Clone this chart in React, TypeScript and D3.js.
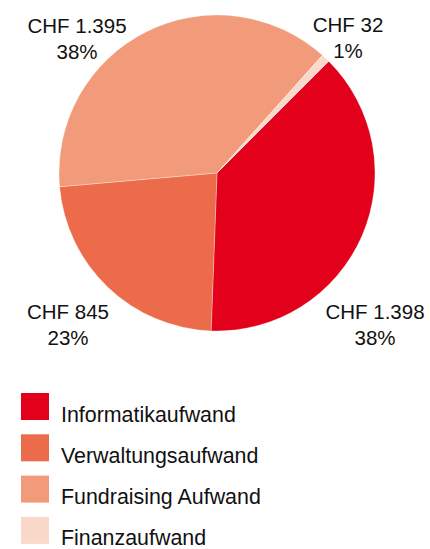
import React from "react";
import * as d3 from "d3";

const categories = ["Informatikaufwand", "Verwaltungsaufwand", "Fundraising Aufwand", "Finanzaufwand"];
const values = [1398, 845, 1395, 32];
const valueLabels = ["CHF 1.398", "CHF 845", "CHF 1.395", "CHF 32"];
const percentLabels = ["38%", "23%", "38%", "1%"];
const colors = ["#E2001A", "#EC6B4B", "#F19B7B", "#FAD9CB"];

// label anchor positions (centre x, baseline y of first line)
const labelPos: [number, number][] = [
  [375, 319],
  [68, 319],
  [77, 33],
  [348, 32],
];

export default function App() {
  const width = 430;
  const height = 549;
  const cx = 217;
  const cy = 173;
  const r = 158;
  const data = categories.map((c, i) => ({ c, v: values[i], i }));
  const pie = d3
    .pie<{ c: string; v: number; i: number }>()
    .value((d) => d.v)
    .sort(null)
    .startAngle((45 * Math.PI) / 180)
    .endAngle((45 * Math.PI) / 180 + 2 * Math.PI);
  const arcs = pie(data);
  const arc = d3.arc<d3.PieArcDatum<{ c: string; v: number; i: number }>>().innerRadius(0).outerRadius(r);
  const font = "'Liberation Sans', Arial, Helvetica, sans-serif";

  return (
    <svg
      width={width}
      height={height}
      style={{ position: "absolute", left: 0, top: 0, background: "#fff" }}
      fontFamily={font}
    >
      <g transform={`translate(${cx},${cy})`}>
        {arcs.map((a) => (
          <path key={a.data.c} d={arc(a) || ""} fill={colors[a.data.i]} stroke="#fff" strokeOpacity={0.5} strokeWidth={0.6} />
        ))}
      </g>
      {labelPos.map(([x, y], i) => (
        <g key={i} fill="#111" fontSize={20.5} textAnchor="middle">
          <text x={x} y={y}>{valueLabels[i]}</text>
          <text x={x} y={y + 26}>{percentLabels[i]}</text>
        </g>
      ))}
      {categories.map((c, i) => (
        <g key={c} transform={`translate(0,${393 + i * 41.3})`}>
          <rect x={21} y={0} width={28} height={27} fill={colors[i]} />
          <text x={61} y={28.5} fontSize={21.4} fill="#111">{c}</text>
        </g>
      ))}
    </svg>
  );
}
